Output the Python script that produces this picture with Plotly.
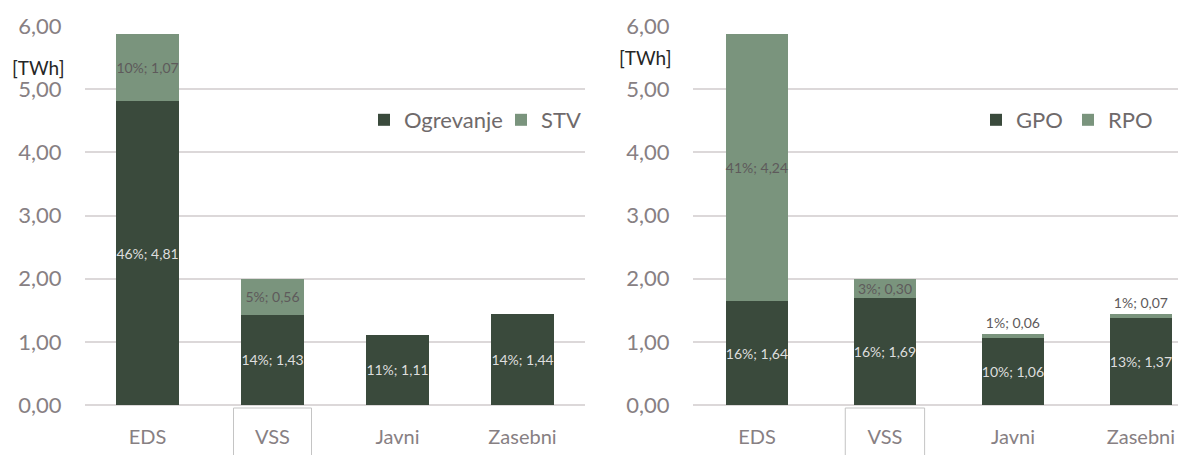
import plotly.graph_objects as go

categories = ["EDS", "VSS", "Javni", "Zasebni"]

# Left chart: Ogrevanje / STV [TWh]
ogrevanje = [4.81, 1.43, 1.11, 1.44]
ogrevanje_pct = [46, 14, 11, 14]
stv = [1.07, 0.56, 0.0, 0.0]
stv_pct = [10, 5, None, None]

# Right chart: GPO / RPO [TWh]
gpo = [1.64, 1.69, 1.06, 1.37]
gpo_pct = [16, 16, 10, 13]
rpo = [4.24, 0.30, 0.06, 0.07]
rpo_pct = [41, 3, 1, 1]

y_ticks = [0, 1, 2, 3, 4, 5, 6]

DARK = "#3a4a3c"
LIGHT = "#7a947d"
TICK_COLOR = "#878083"
GRID = "#dcd8d9"
FONT = "Lato"


def lab(p, v):
    if p is None:
        return ""
    return f"{p}%; {v:.2f}".replace(".", ",")


fig = go.Figure()

fig.add_bar(x=categories, y=ogrevanje, name="Ogrevanje", marker_color=DARK,
            text=[lab(p, v) for p, v in zip(ogrevanje_pct, ogrevanje)],
            textposition="inside", insidetextanchor="middle", textangle=0,
            constraintext="none", cliponaxis=False,
            textfont=dict(color="#dedede", size=14, family=FONT),
            width=0.5, xaxis="x", yaxis="y", legend="legend")
fig.add_bar(x=categories, y=stv, name="STV", marker_color=LIGHT,
            text=[lab(p, v) for p, v in zip(stv_pct, stv)],
            textposition="inside", insidetextanchor="middle", textangle=0,
            constraintext="none", cliponaxis=False,
            textfont=dict(color="#5e5a5b", size=14, family=FONT),
            width=0.5, xaxis="x", yaxis="y", legend="legend")

fig.add_bar(x=categories, y=gpo, name="GPO", marker_color=DARK,
            text=[lab(p, v) for p, v in zip(gpo_pct, gpo)],
            textposition="inside", insidetextanchor="middle", textangle=0,
            constraintext="none", cliponaxis=False,
            textfont=dict(color="#dedede", size=14, family=FONT),
            width=0.48, xaxis="x2", yaxis="y2", legend="legend2")
fig.add_bar(x=categories, y=rpo, name="RPO", marker_color=LIGHT,
            text=[lab(p, v) for p, v in zip(rpo_pct, rpo)],
            textposition=["inside" if v > 0.2 else "outside" for v in rpo],
            insidetextanchor="middle", textangle=0,
            constraintext="none", cliponaxis=False,
            textfont=dict(color="#5e5a5b", size=14, family=FONT),
            outsidetextfont=dict(color="#5e5a5b", size=14, family=FONT),
            width=0.48, xaxis="x2", yaxis="y2", legend="legend2")

W, H = 1178, 455
ydom = [(H - 405) / H, (H - 26) / H]

common_y = dict(range=[0, 6], tickvals=y_ticks, tickformat=".2f",
                showgrid=True, gridcolor=GRID, gridwidth=2,
                zeroline=True, zerolinecolor=GRID, zerolinewidth=2,
                showline=False, ticks="outside", ticklen=18,
                tickcolor="rgba(0,0,0,0)", automargin=False,
                tickfont=dict(size=22, color=TICK_COLOR, family=FONT),
                domain=ydom, fixedrange=True)
common_x = dict(showgrid=False, zeroline=False, showline=False,
                ticks="outside", ticklen=14, tickcolor="rgba(0,0,0,0)",
                automargin=False, fixedrange=True,
                tickfont=dict(size=20, color=TICK_COLOR, family=FONT),
                categoryorder="array", categoryarray=categories)

legend_common = dict(orientation="h", yanchor="middle", y=(H - 120) / H,
                     font=dict(size=22, color="#6f6a6b", family=FONT),
                     itemwidth=30, traceorder="normal",
                     entrywidthmode="pixels",
                     bgcolor="rgba(0,0,0,0)")

fig.update_layout(
    template="none",
    width=W, height=H,
    margin=dict(l=0, r=0, t=0, b=0, pad=0, autoexpand=False),
    paper_bgcolor="white", plot_bgcolor="white",
    barmode="stack",
    separators=", ",
    font=dict(family=FONT, color=TICK_COLOR),
    xaxis=dict(domain=[85 / W, 585 / W], range=[-0.5, 3.5], anchor="y", **common_x),
    yaxis=dict(anchor="x", **common_y),
    xaxis2=dict(domain=[693 / W, 1.0], range=[-0.5, 3.29], anchor="y2", **common_x),
    yaxis2=dict(anchor="x2", **common_y),
    legend=dict(x=364 / W, xanchor="left", entrywidth=92, **legend_common),
    legend2=dict(x=976 / W, xanchor="left", entrywidth=47, **legend_common),
    showlegend=True,
)

fig.add_annotation(text="[TWh]", xref="paper", yref="paper",
                   x=38 / W, y=(H - 67) / H, xanchor="center", yanchor="middle",
                   showarrow=False,
                   font=dict(size=19, color="#262626", family=FONT))
fig.add_annotation(text="[TWh]", xref="paper", yref="paper",
                   x=645 / W, y=(H - 58) / H, xanchor="center", yanchor="middle",
                   showarrow=False,
                   font=dict(size=19, color="#262626", family=FONT))

vi = categories.index("VSS")
for xr, hw in (("x", 0.312), ("x2", 0.31)):
    fig.add_shape(type="rect", xref=xr, yref="paper",
                  x0=vi - hw, x1=vi + hw, y0=-0.05, y1=(H - 408) / H,
                  line=dict(color="#c4c4c4", width=1), fillcolor="rgba(0,0,0,0)",
                  layer="above")

fig.write_html("out.html",
               config={"displayModeBar": False},
               post_script="document.body.style.margin='0';document.body.style.overflow='hidden';")
